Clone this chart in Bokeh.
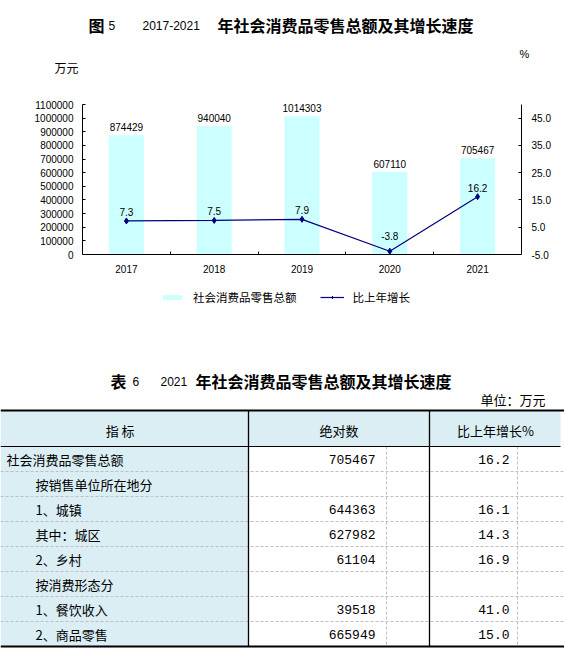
from bokeh.plotting import figure
from bokeh.models import (Range1d, LinearAxis, FixedTicker, NumeralTickFormatter,
                          PrintfTickFormatter, CustomJSTickFormatter, Legend, LegendItem,
                          ColumnDataSource)
from bokeh.layouts import column
from bokeh.core.properties import value
from bokeh.embed import file_html
from bokeh.resources import INLINE

# ---------------- data ----------------
years = ["2017", "2018", "2019", "2020", "2021"]
retail_total = [874429, 940040, 1014303, 607110, 705467]      # 万元
growth = [7.3, 7.5, 7.9, -3.8, 16.2]                         # %
left_ticks = [0, 100000, 200000, 300000, 400000, 500000, 600000,
              700000, 800000, 900000, 1000000, 1100000]
right_ticks = [-5, 5, 15, 25, 35, 45]

table_items = ["社会消费品零售总额", "按销售单位所在地分", "1、城镇", "其中：城区",
               "2、乡村", "按消费形态分", "1、餐饮收入", "2、商品零售"]
table_abs = [705467, None, 644363, 627982, 61104, None, 39518, 665949]
table_growth = [16.2, None, 16.1, 14.3, 16.9, None, 41.0, 15.0]
table_headers = ["指    标", "绝对数", "比上年增长%"]

# ---------------- styles ----------------
CJK = "Noto Sans CJK SC"
SANS = "Liberation Sans"
MONO = "Liberation Mono"
BAR = "#CCFFFF"
NAVY = "#000080"
TBL_BLUE = "#DAEEF3"
GRID = "#BFBFBF"
W = 564


def canvas(h):
    f = figure(width=W, height=h, x_range=Range1d(0, W), y_range=Range1d(h, 0),
               x_axis_type=None, y_axis_type=None, min_border=0, frame_align=False,
               toolbar_location=None, output_backend="svg", outline_line_color=None)
    return f


def put(f, x, y, txt, font=CJK, size="12px", style="normal", align="left"):
    f.text(x=[x], y=[y], text=[txt], text_font=value(font), text_font_size=size,
           text_font_style=style, text_align=align, text_baseline="middle",
           text_color="black")


# ---------------- header (chart title) ----------------
hd = canvas(96)
put(hd, 88, 24, "图", size="16px", style="bold")
put(hd, 108, 25, "5", font=SANS, size="12px")
put(hd, 142, 25, "2017-2021", font=SANS, size="12px")
put(hd, 217, 24, "年社会消费品零售总额及其增长速度", size="16px", style="bold")
put(hd, 54, 67, "万元", size="12px")
put(hd, 519, 53, "%", font=SANS, size="11px")

# ---------------- chart ----------------
# axis span is 150px; the frame reaches 6px above it and 52px below it (legend area)
AX_PX, ABOVE_PX, BELOW_PX = 150.0, 6.0, 52.0
L_TOP, R_BOT, R_TOP = 1100000, -5, 50
lk = AX_PX / L_TOP
rk = AX_PX / (R_TOP - R_BOT)

ch = figure(width=W, height=236, x_range=Range1d(0, len(years)),
            y_range=Range1d(-BELOW_PX / lk, (AX_PX + ABOVE_PX) / lk),
            x_axis_type=None, y_axis_type=None,
            min_border_left=82, min_border_right=43, min_border_top=2,
            min_border_bottom=26, toolbar_location=None, output_backend="svg",
            outline_line_color=None, frame_align=False)
ch.extra_y_ranges = {"pct": Range1d(R_BOT - BELOW_PX / rk, R_BOT + (AX_PX + ABOVE_PX) / rk)}

xs = [i + 0.5 for i in range(len(years))]
src = ColumnDataSource(dict(
    x=xs, total=retail_total, g=growth,
    tl=[str(v) for v in retail_total],
    gl=[f"{v:.1f}" for v in growth],
    goff=[-15 if v < 0 else -9 for v in growth],
))

bars = ch.vbar(x="x", top="total", width=0.4, fill_color=BAR, line_color=None, source=src)
ch.text(x="x", y="total", text="tl", y_offset=-8, text_font=value(SANS),
        text_font_size="10px", text_align="center", text_baseline="middle",
        text_color="black", source=src)
ln = ch.line("x", "g", y_range_name="pct", line_color=NAVY, line_width=1.2, source=src)
mk = ch.scatter("x", "g", y_range_name="pct", marker="diamond", size=6,
                fill_color=NAVY, line_color=NAVY, source=src)
ch.text(x="x", y="g", text="gl", y_range_name="pct", y_offset="goff",
        text_font=value(SANS), text_font_size="10px", text_align="center",
        text_baseline="middle", text_color="black", source=src)

axis_style = dict(major_tick_in=3, major_tick_out=0, minor_tick_line_color=None,
                  axis_line_color="black", major_tick_line_color="black",
                  major_label_text_font=SANS, major_label_text_font_size="10px",
                  major_label_text_color="black")

ya = LinearAxis(ticker=FixedTicker(ticks=left_ticks), bounds=(0, L_TOP),
                formatter=NumeralTickFormatter(format="0"),
                major_label_standoff=9, **axis_style)
ch.add_layout(ya, "left")

yb = LinearAxis(y_range_name="pct", ticker=FixedTicker(ticks=right_ticks),
                bounds=(R_BOT, R_TOP), formatter=PrintfTickFormatter(format="%.1f"),
                major_label_standoff=10, **axis_style)
ch.add_layout(yb, "right")

# axis carrying the boundary ticks between years (labels invisible)
xt_style = dict(axis_style)
xt_style.update(major_label_text_font_size="1px", major_label_text_alpha=0)
xt = LinearAxis(ticker=FixedTicker(ticks=[i for i in range(1, len(years))]),
                fixed_location=0, major_label_standoff=0, **xt_style)
ch.add_layout(xt, "below")

xl_style = dict(axis_style)
xl_style.update(axis_line_color=None, major_tick_line_color=None, major_tick_in=0)
xl = LinearAxis(ticker=FixedTicker(ticks=xs), fixed_location=0,
                formatter=CustomJSTickFormatter(args=dict(labels=years),
                                                code="return labels[Math.floor(tick)];"),
                major_label_standoff=10, **xl_style)
ch.add_layout(xl, "below")

leg = Legend(items=[LegendItem(label="社会消费品零售总额", renderers=[bars]),
                    LegendItem(label="比上年增长", renderers=[ln, mk])],
             orientation="horizontal", location=(78, 1), margin=0, padding=1,
             spacing=23, glyph_width=24, glyph_height=6, label_height=12,
             label_standoff=9, label_text_font=CJK, label_text_font_size="11.5px",
             label_text_color="black", border_line_color=None,
             background_fill_alpha=0)
ch.add_layout(leg)

# ---------------- table ----------------
tb = canvas(318)
c1, c2, cend = 248, 429, 560
d1, d2 = 386, 517
top, hbot, rowh = 78, 114, 25
nrows = len(table_items)
bot = hbot + rowh * nrows

put(tb, 110, 48, "表", size="16px", style="bold")
put(tb, 132, 49, "6", font=SANS, size="12px")
put(tb, 160, 49, "2021", font=SANS, size="12px")
put(tb, 195, 48, "年社会消费品零售总额及其增长速度", size="16px", style="bold")
put(tb, 545, 67, "单位：万元", size="13px", align="right")

tb.quad(left=[0], right=[cend], top=[top], bottom=[hbot], fill_color=TBL_BLUE, line_color=None)
tb.quad(left=[0], right=[c1], top=[hbot], bottom=[bot], fill_color=TBL_BLUE, line_color=None)

ry = [hbot + rowh * i for i in range(1, nrows)]
tb.segment(x0=[0] * len(ry), y0=ry, x1=[W] * len(ry), y1=ry, line_color=GRID,
           line_width=1, line_dash="3 2")
tb.segment(x0=[d1, d2], y0=[hbot, hbot], x1=[d1, d2], y1=[bot, bot], line_color=GRID,
           line_width=1, line_dash="3 2")
tb.segment(x0=[0], y0=[hbot], x1=[cend], y1=[hbot], line_color="black", line_width=1)
tb.segment(x0=[c1, c2], y0=[top, top], x1=[c1, c2], y1=[bot, bot], line_color="black",
           line_width=1.3)
tb.segment(x0=[0, 0], y0=[top, bot], x1=[W, W], y1=[top, bot], line_color="black",
           line_width=2.2)

hx = [124, (c1 + c2) / 2, 495]
tb.text(x=hx, y=[top + 20] * 3, text=table_headers, text_font=value(CJK),
        text_font_size="13px", text_align="center", text_baseline="middle",
        text_color="black")

cy = [hbot + rowh * i + rowh / 2 for i in range(nrows)]
lx = [6 if i == 0 else 35 for i in range(nrows)]
tb.text(x=lx, y=cy, text=table_items, text_font=value(CJK), text_font_size="13px",
        text_align="left", text_baseline="middle", text_color="black")

abs_txt = ["" if v is None else str(v) for v in table_abs]
gr_txt = ["" if v is None else f"{v:.1f}" for v in table_growth]
tb.text(x=[375] * nrows, y=cy, text=abs_txt, text_font=value(MONO), text_font_size="13px",
        text_align="right", text_baseline="middle", text_color="black")
tb.text(x=[509] * nrows, y=cy, text=gr_txt, text_font=value(MONO), text_font_size="13px",
        text_align="right", text_baseline="middle", text_color="black")

page = column(hd, ch, tb, spacing=0)
open("out.html", "w").write(file_html(page, INLINE))
